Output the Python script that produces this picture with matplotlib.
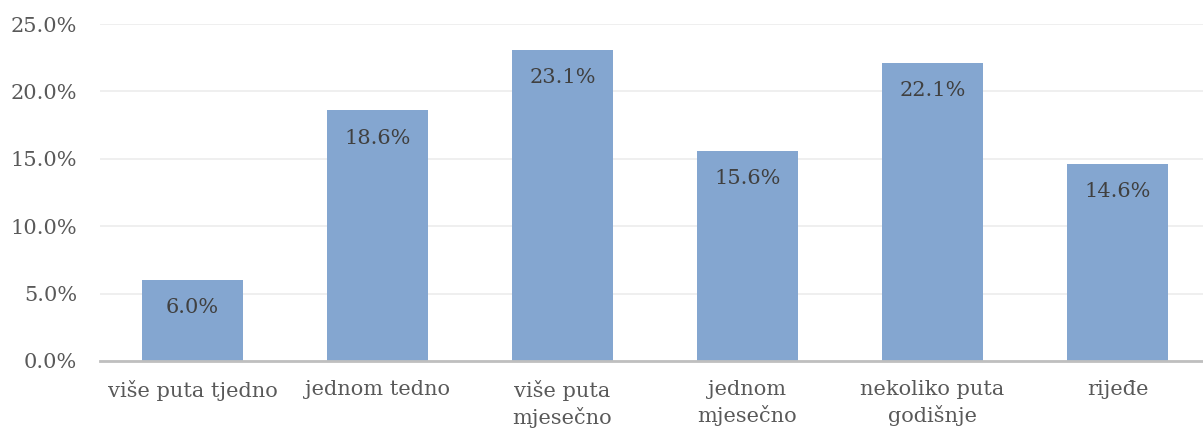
import matplotlib.pyplot as plt
from matplotlib.ticker import FuncFormatter

categories = ["više puta tjedno", "jednom tedno", "više puta\nmjesečno",
              "jednom\nmjesečno", "nekoliko puta\ngodišnje", "rijeđe"]
values = [6.0, 18.6, 23.1, 15.6, 22.1, 14.6]
yticks = [0, 5, 10, 15, 20, 25]

plt.rcParams["font.family"] = ["DejaVu Serif"]

fig = plt.figure(figsize=(12.03, 4.32), dpi=100)
# axes runs slightly past the right edge, as in the cropped original
ax = fig.add_axes([100 / 1203, (432 - 361) / 432, 1110 / 1203, 337 / 432])

x = range(len(categories))
ax.bar(x, values, width=0.55, color="#84a6d0", zorder=2)

for i, v in zip(x, values):
    ax.annotate(f"{v:.1f}%", (i, v), xytext=(0, -20), textcoords="offset points",
                ha="center", va="center", fontsize=15, color="#404040", zorder=3)

ax.set_xlim(-0.5, len(categories) - 0.5)
ax.set_ylim(0, 25)
ax.set_yticks(yticks)
ax.yaxis.set_major_formatter(FuncFormatter(lambda v, _: f"{v:.1f}%"))
ax.set_xticks(list(x))
ax.set_xticklabels(categories, linespacing=1.3)

ax.grid(axis="y", color="#ececec", linewidth=1.2, zorder=0)
for s in ["top", "right", "left"]:
    ax.spines[s].set_visible(False)
ax.spines["bottom"].set_color("#bfbfbf")
ax.spines["bottom"].set_linewidth(2)
ax.spines["bottom"].set_zorder(4)

ax.tick_params(axis="both", length=0, labelsize=15, labelcolor="#595959")
ax.tick_params(axis="x", pad=14)
ax.tick_params(axis="y", pad=16.5)

fig.savefig("out.png", dpi=100)
